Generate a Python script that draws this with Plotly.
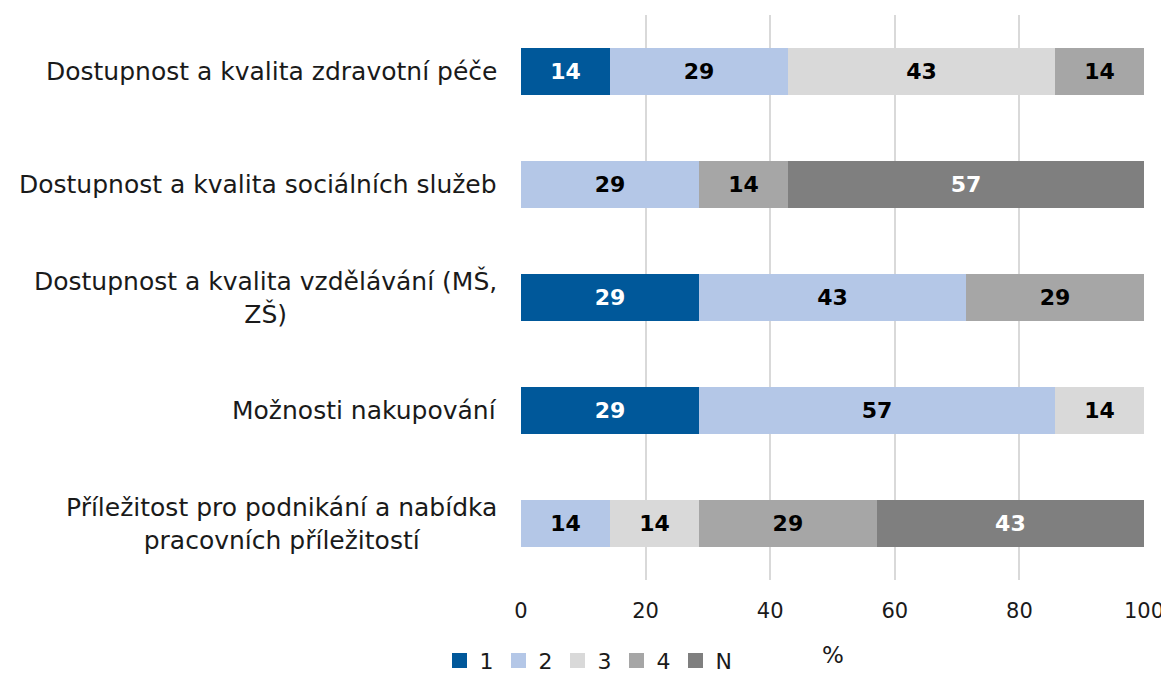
import plotly.graph_objects as go

categories = [
    "Dostupnost a kvalita zdravotní péče",
    "Dostupnost a kvalita sociálních služeb",
    "Dostupnost a kvalita vzdělávání (MŠ,<br>ZŠ)",
    "Možnosti nakupování",
    "Příležitost pro podnikání a nabídka<br>pracovních příležitostí",
]
series_names = ["1", "2", "3", "4", "N"]
s1 = [14.28, None, 28.57, 28.57, None]
s2 = [28.57, 28.57, 42.86, 57.14, 14.28]
s3 = [42.86, None, None, 14.28, 14.28]
s4 = [14.28, 14.28, 28.57, None, 28.57]
sN = [None, 57.14, None, None, 42.86]
values = [s1, s2, s3, s4, sN]
colors = ["#00589a", "#b4c7e7", "#d9d9d9", "#a6a6a6", "#7f7f7f"]
text_colors = ["white", "black", "black", "black", "white"]
x_ticks = [0, 20, 40, 60, 80, 100]
axis_title = "%"

FONT = "DejaVu Sans"
fig = go.Figure()
for name, vals, c, tc in zip(series_names, values, colors, text_colors):
    fig.add_trace(go.Bar(
        y=list(range(len(categories))), x=vals, name=name, orientation="h",
        marker=dict(color=c, line=dict(width=0)), showlegend=False,
        texttemplate="%{x:.0f}", textposition="inside", insidetextanchor="middle",
        textfont=dict(family=FONT, size=22, color=tc, weight="bold"),
        constraintext="none",
    ))
# legend entries with larger square swatches
for name, c in zip(series_names, colors):
    fig.add_trace(go.Scatter(
        x=[None], y=[None], mode="markers", name=name,
        marker=dict(symbol="square", size=15, color=c), showlegend=True,
    ))

for i, cat in enumerate(categories):
    fig.add_annotation(
        x=0, xref="paper", y=i, yref="y", text=cat, showarrow=False,
        xanchor="right", yanchor="middle", align="center", xshift=-22,
        font=dict(family=FONT, size=25, color="#1a1a1a"),
    )

fig.add_annotation(
    x=0.5, xref="paper", y=0, yref="paper", yshift=-75, text=axis_title,
    showarrow=False, xanchor="center", yanchor="middle",
    font=dict(family=FONT, size=23, color="#1a1a1a"),
)

fig.update_layout(
    barmode="stack", bargap=0.59,
    width=1161, height=666,
    margin=dict(l=513, r=25, t=7, b=94, autoexpand=False),
    plot_bgcolor="white", paper_bgcolor="white",
    font=dict(family=FONT, color="#1a1a1a"),
    showlegend=True,
    legend=dict(orientation="h", x=0.5, xanchor="center", xref="container",
                y=0.02, yanchor="middle", yref="container",
                font=dict(family=FONT, size=22), traceorder="normal",
                itemwidth=30, tracegroupgap=0),
    xaxis=dict(range=[0, 100], tickvals=x_ticks, showgrid=True, gridcolor="#d9d9d9",
               gridwidth=2, zeroline=False, showline=False, automargin=False,
               tickfont=dict(family=FONT, size=21, color="#1a1a1a"), ticks="outside",
               ticklen=12, tickcolor="rgba(0,0,0,0)", ticklabeloverflow="allow"),
    yaxis=dict(tickvals=list(range(len(categories))), showticklabels=False,
               autorange="reversed", showgrid=False, zeroline=False, automargin=False),
)
fig.write_html("out.html")
